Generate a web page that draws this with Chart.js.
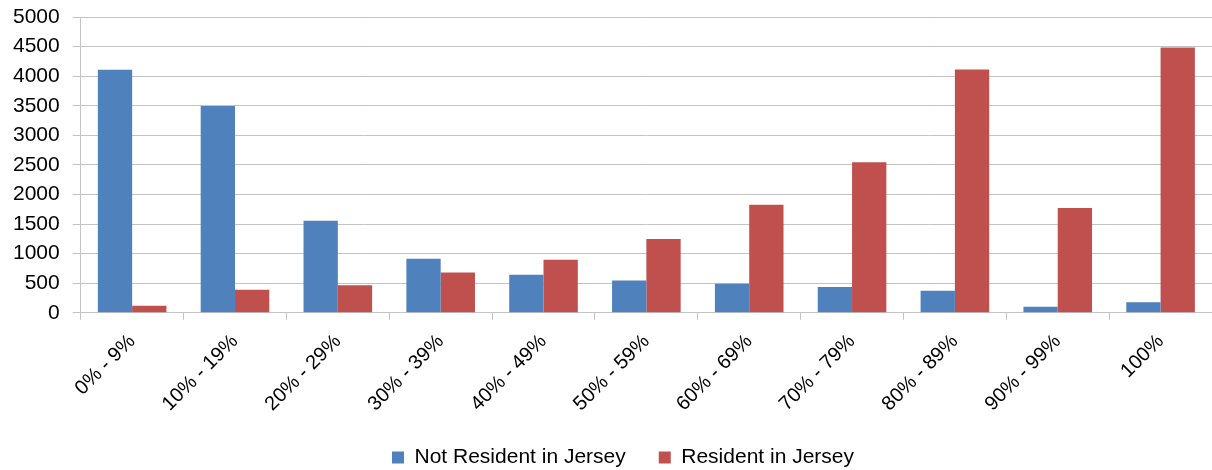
<!DOCTYPE html>
<html>
<head>
<meta charset="utf-8">
<script src="https://cdn.jsdelivr.net/npm/chart.js@4/dist/chart.umd.min.js"></script>
<style>
  body { margin: 0; background: #fff; }
  #wrap { width: 1212px; height: 470px; overflow: hidden; }
</style>
</head>
<body>
<div id="wrap"><canvas id="chart" width="1212" height="478"></canvas></div>
<script>
const categories = ['0% - 9%', '10% - 19%', '20% - 29%', '30% - 39%', '40% - 49%', '50% - 59%',
    '60% - 69%', '70% - 79%', '80% - 89%', '90% - 99%', '100%'];
const notResident = [4110, 3495, 1555, 915, 645, 548, 492, 435, 372, 102, 181];
const resident = [118, 390, 468, 683, 897, 1247, 1828, 2545, 4114, 1772, 4486];

const fontFamily = '"Liberation Sans", Arial, sans-serif';
const gridColor = '#c4c4c4';

// nudge the legend a bit to the right, like the original
const legendShift = {
    id: 'legendShift',
    afterLayout(chart) {
        if (chart.legend) {
            chart.legend.left += 34;
        }
    }
};

document.addEventListener('DOMContentLoaded', () => {
    const ctx = document.getElementById('chart').getContext('2d');
    new Chart(ctx, {
        type: 'bar',
        data: {
            labels: categories,
            datasets: [{
                label: 'Not Resident in Jersey',
                data: notResident,
                backgroundColor: '#4f81bd',
                borderWidth: 0,
                categoryPercentage: 0.667,
                barPercentage: 1.0
            }, {
                label: 'Resident in Jersey',
                data: resident,
                backgroundColor: '#c0504d',
                borderWidth: 0,
                categoryPercentage: 0.667,
                barPercentage: 1.0
            }]
        },
        plugins: [legendShift],
        options: {
            responsive: false,
            animation: false,
            layout: {
                padding: { left: 0, right: 0, top: 0, bottom: 0 }
            },
            scales: {
                x: {
                    grid: {
                        display: true,
                        drawOnChartArea: false,
                        drawTicks: true,
                        tickLength: 7,
                        offset: true,
                        color: gridColor
                    },
                    border: { color: gridColor },
                    ticks: {
                        minRotation: 45,
                        maxRotation: 45,
                        padding: 10,
                        color: '#000',
                        font: { family: fontFamily, size: 20 }
                    },
                    afterFit: scale => { scale.height -= 12; }
                },
                y: {
                    min: 0,
                    max: 5000,
                    ticks: {
                        stepSize: 500,
                        padding: 13,
                        color: '#000',
                        font: { family: fontFamily, size: 21 },
                        callback: v => String(v)
                    },
                    grid: {
                        color: gridColor,
                        tickLength: 8
                    },
                    border: { color: gridColor },
                    afterFit: scale => { scale.paddingTop = 17; }
                }
            },
            plugins: {
                legend: {
                    position: 'bottom',
                    labels: {
                        boxWidth: 12,
                        boxHeight: 12,
                        padding: 33,
                        color: '#000',
                        font: { family: fontFamily, size: 21 }
                    }
                },
                tooltip: { enabled: false }
            }
        }
    });
});
</script>
</body>
</html>
